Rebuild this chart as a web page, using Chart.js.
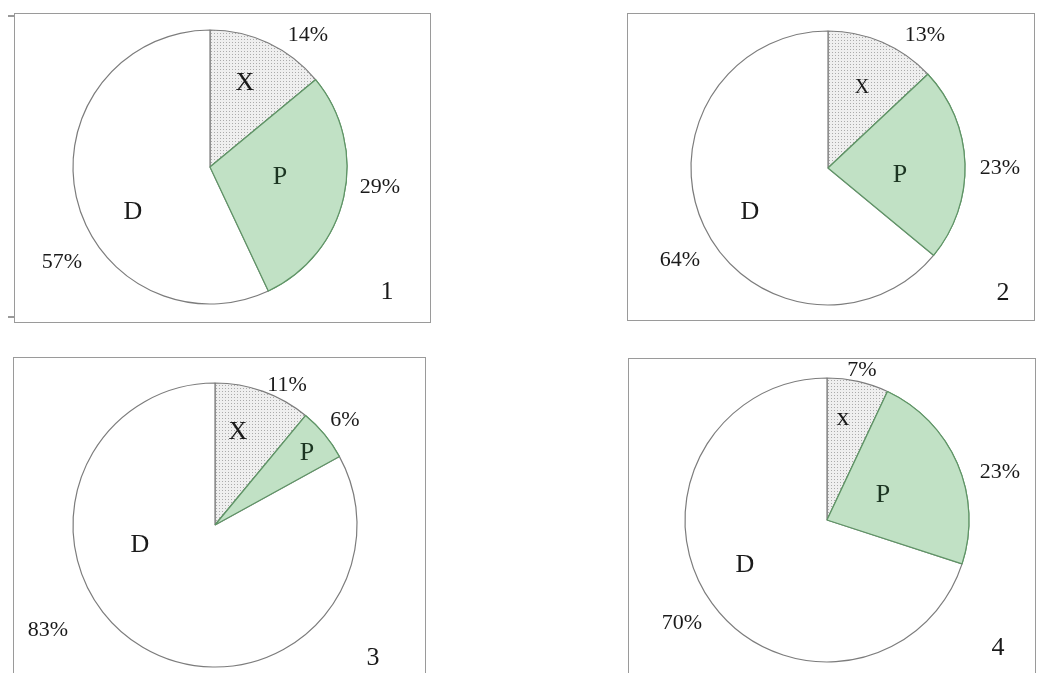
<!DOCTYPE html>
<html>
<head>
<meta charset="utf-8">
<script src="https://cdn.jsdelivr.net/npm/chart.js"></script>
<style>
  html, body { margin: 0; padding: 0; background: #fff; }
  body { width: 1040px; height: 673px; position: relative; overflow: hidden; }
  .box { position: absolute; border: 1.5px solid #9a9a9a; box-sizing: border-box; }
  .tick { position: absolute; height: 1.5px; width: 6px; background: #9a9a9a; }
  canvas { position: absolute; }
</style>
</head>
<body>
<div class="box" style="left:14px; top:13px; width:417px; height:310px;"></div>
<div class="tick" style="left:8px; top:15px;"></div>
<div class="tick" style="left:8px; top:316px;"></div>
<div class="box" style="left:627px; top:13px; width:408px; height:308px;"></div>
<div class="box" style="left:13px; top:357px; width:413px; height:330px;"></div>
<div class="box" style="left:628px; top:358px; width:408px; height:330px;"></div>

<canvas id="pie1" width="420" height="420"></canvas>
<canvas id="pie2" width="420" height="420"></canvas>
<canvas id="pie3" width="420" height="420"></canvas>
<canvas id="pie4" width="420" height="420"></canvas>

<script>
// data
const panelNumbers = ['1', '2', '3', '4'];
const sliceNames1 = ['X', 'P', 'D'];
const sliceNames2 = ['X', 'P', 'D'];
const sliceNames3 = ['X', 'P', 'D'];
const sliceNames4 = ['x', 'P', 'D'];
const shares1 = [14, 29, 57];
const shares2 = [13, 23, 64];
const shares3 = [11, 6, 83];
const shares4 = [7, 23, 70];

// layout: pie centre, radius, and where labels sit relative to the centre
const panels = [
    { id: 'pie1', names: sliceNames1, values: shares1, cx: 210, cy: 167, r: 137, nameSize: [26, 26, 26],
      nameOff: [[35, -84], [70, 10], [-77, 45]], pctOff: [[98, -132], [170, 20], [-148, 95]], numOff: [177, 125] },
    { id: 'pie2', names: sliceNames2, values: shares2, cx: 828, cy: 168, r: 137, nameSize: [20, 26, 26],
      nameOff: [[34, -80], [72, 7], [-78, 44]], pctOff: [[97, -133], [172, 0], [-148, 92]], numOff: [175, 125] },
    { id: 'pie3', names: sliceNames3, values: shares3, cx: 215, cy: 525, r: 142, nameSize: [26, 26, 26],
      nameOff: [[23, -93], [92, -72], [-75, 20]], pctOff: [[72, -140], [130, -105], [-167, 105]], numOff: [158, 133] },
    { id: 'pie4', names: sliceNames4, values: shares4, cx: 827, cy: 520, r: 142, nameSize: [26, 26, 26],
      nameOff: [[16, -102], [56, -25], [-82, 45]], pctOff: [[35, -150], [173, -48], [-145, 103]], numOff: [171, 128] }
];

const SIZE = 420;
const FONT = '"Liberation Serif", "DejaVu Serif", serif';

function dotPattern() {
    const c = document.createElement('canvas');
    c.width = 3; c.height = 3;
    const g = c.getContext('2d');
    g.fillStyle = '#efefef';
    g.fillRect(0, 0, 3, 3);
    g.fillStyle = '#ababab';
    g.fillRect(1, 1, 1, 1);
    return g.createPattern(c, 'repeat');
}

const pieLabels = {
    id: 'pieLabels',
    afterDatasetsDraw(chart, args, opts) {
        const ctx = chart.ctx;
        const arcs = chart.getDatasetMeta(0).data;
        // redraw the P slice so its green edge sits on top of the neighbours
        arcs[1].draw(ctx);
        const cx = arcs[0].x, cy = arcs[0].y;
        const p = opts.panel;
        ctx.save();
        ctx.textAlign = 'center';
        ctx.textBaseline = 'middle';
        p.names.forEach((name, i) => {
            ctx.fillStyle = name === 'P' ? '#1c3522' : '#1a1a1a';
            ctx.font = p.nameSize[i] + 'px ' + FONT;
            ctx.fillText(name, cx + p.nameOff[i][0], cy + p.nameOff[i][1]);
        });
        ctx.fillStyle = '#1a1a1a';
        ctx.font = '22px ' + FONT;
        p.values.forEach((v, i) => {
            ctx.fillText(v + '%', cx + p.pctOff[i][0], cy + p.pctOff[i][1]);
        });
        ctx.font = '26px ' + FONT;
        ctx.fillText(opts.number, cx + p.numOff[0], cy + p.numOff[1]);
        ctx.restore();
    }
};

panels.forEach((p, k) => {
    const el = document.getElementById(p.id);
    el.style.left = (p.cx - SIZE / 2) + 'px';
    el.style.top = (p.cy - SIZE / 2) + 'px';

    new Chart(el, {
        type: 'pie',
        data: {
            labels: p.names,
            datasets: [{
                data: p.values,
                backgroundColor: [dotPattern(), '#c1e1c5', '#ffffff'],
                borderColor: ['#7c7c7c', '#5f9466', '#7c7c7c'],
                borderWidth: 1.2,
                hoverOffset: 0
            }]
        },
        options: {
            responsive: false,
            animation: false,
            radius: p.r,
            layout: { padding: 0 },
            plugins: {
                legend: { display: false },
                tooltip: { enabled: false },
                pieLabels: { panel: p, number: panelNumbers[k] }
            }
        },
        plugins: [pieLabels]
    });
});
</script>
</body>
</html>
